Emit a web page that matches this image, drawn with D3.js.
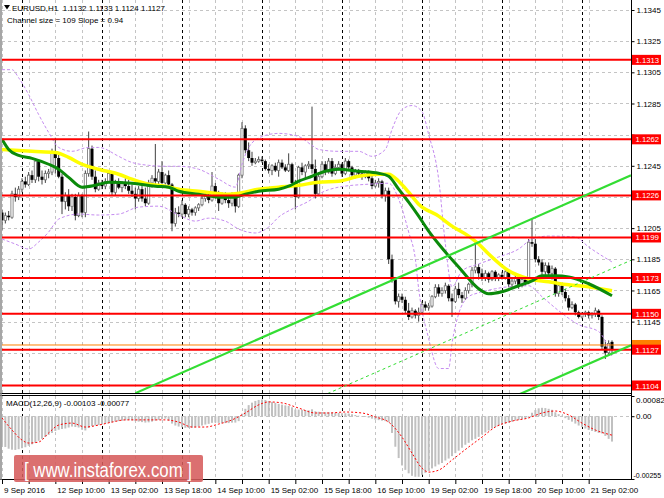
<!DOCTYPE html>
<html><head><meta charset="utf-8">
<script src="https://cdn.jsdelivr.net/npm/d3@7"></script>
<style>
html,body{margin:0;padding:0;background:#fff;}
svg{display:block;font-family:"Liberation Sans",Arial,sans-serif;}
text{white-space:pre;}
</style></head><body>
<svg id="c" width="664" height="498"></svg>
<script>
// ---------------- DATA ----------------
const symbol = "EURUSD,H1";
const headerQuote = "1.1132 1.1133 1.1124 1.1127";
const channelText = "Channel size = 109 Slope = 0.94";
const macdText = "MACD(12,26,9) -0.00103 -0.00077";

const open = [
1.1215,1.1210,1.1213,1.1212,1.1227,1.1225,1.1230,1.1235,1.1233,1.1239,
1.1236,1.1248,1.1238,1.1236,1.1240,1.1241,1.1254,1.1250,1.1238,1.1222,
1.1226,1.1219,1.1225,1.1213,1.1226,1.1215,1.1240,1.1256,1.1238,1.1230,
1.1234,1.1232,1.1235,1.1240,1.1228,1.1234,1.1231,1.1234,1.1232,1.1229,
1.1227,1.1224,1.1230,1.1224,1.1221,1.1234,1.1237,1.1235,1.1241,1.1234,
1.1239,1.1233,1.1208,1.1215,1.1214,1.1220,1.1214,1.1217,1.1215,1.1218,
1.1220,1.1224,1.1226,1.1223,1.1232,1.1226,1.1221,1.1227,1.1223,1.1221,
1.1226,1.1219,1.1239,1.1269,1.1255,1.1250,1.1247,1.1248,1.1249,1.1248,
1.1243,1.1242,1.1245,1.1242,1.1247,1.1244,1.1242,1.1246,1.1234,1.1225,
1.1244,1.1241,1.1245,1.1246,1.1243,1.1227,1.1238,1.1246,1.1241,1.1248,
1.1240,1.1244,1.1246,1.1240,1.1248,1.1244,1.1239,1.1242,1.1240,1.1238,
1.1241,1.1237,1.1232,1.1234,1.1235,1.1226,1.1229,1.1185,1.1172,1.1158,
1.1161,1.1159,1.1152,1.1148,1.1152,1.1149,1.1151,1.1156,1.1154,1.1155,
1.1161,1.1167,1.1163,1.1165,1.1168,1.1160,1.1158,1.1166,1.1162,1.1160,
1.1165,1.1169,1.1178,1.1180,1.1176,1.1173,1.1176,1.1172,1.1177,1.1173,
1.1175,1.1173,1.1177,1.1169,1.1171,1.1173,1.1168,1.1172,1.1170,1.1196,
1.1195,1.1185,1.1183,1.1177,1.1181,1.1176,1.1179,1.1163,1.1168,1.1164,
1.1160,1.1154,1.1156,1.1151,1.1148,1.1150,1.1151,1.1149,1.1150,1.1152,
1.1148,1.1129,1.1125,1.1132];
const high = [
1.1217,1.1215,1.1216,1.1229,1.1231,1.1232,1.1237,1.1238,1.1241,1.1242,
1.1250,1.1249,1.1242,1.1242,1.1243,1.1256,1.1263,1.1253,1.1240,1.1228,
1.1230,1.1227,1.1227,1.1228,1.1227,1.1242,1.1267,1.1258,1.1242,1.1236,
1.1236,1.1237,1.1241,1.1241,1.1236,1.1237,1.1235,1.1237,1.1236,1.1233,
1.1231,1.1232,1.1234,1.1231,1.1236,1.1239,1.1259,1.1243,1.1248,1.1240,
1.1242,1.1234,1.1218,1.1219,1.1223,1.1221,1.1219,1.1218,1.1219,1.1221,
1.1226,1.1228,1.1228,1.1241,1.1234,1.1229,1.1228,1.1228,1.1226,1.1228,
1.1227,1.1240,1.1273,1.1271,1.1260,1.1254,1.1250,1.1251,1.1251,1.1249,
1.1246,1.1246,1.1247,1.1249,1.1249,1.1246,1.1253,1.1247,1.1236,1.1245,
1.1247,1.1246,1.1248,1.1283,1.1249,1.1241,1.1248,1.1248,1.1250,1.1250,
1.1246,1.1248,1.1247,1.1250,1.1249,1.1245,1.1243,1.1243,1.1242,1.1242,
1.1242,1.1239,1.1236,1.1237,1.1236,1.1231,1.1231,1.1188,1.1173,1.1163,
1.1163,1.1161,1.1157,1.1154,1.1153,1.1154,1.1158,1.1158,1.1157,1.1162,
1.1169,1.1169,1.1167,1.1170,1.1169,1.1163,1.1168,1.1170,1.1164,1.1167,
1.1170,1.1180,1.1196,1.1182,1.1179,1.1178,1.1177,1.1178,1.1178,1.1176,
1.1177,1.1178,1.1178,1.1173,1.1175,1.1174,1.1174,1.1173,1.1198,1.1211,
1.1198,1.1187,1.1185,1.1183,1.1183,1.1181,1.1180,1.1170,1.1169,1.1166,
1.1162,1.1158,1.1157,1.1152,1.1151,1.1152,1.1152,1.1151,1.1154,1.1153,
1.1149,1.1133,1.1133,1.1133];
const low = [
1.1204,1.1208,1.1210,1.1211,1.1222,1.1223,1.1228,1.1231,1.1232,1.1234,
1.1234,1.1235,1.1233,1.1234,1.1237,1.1239,1.1240,1.1237,1.1214,1.1217,
1.1216,1.1216,1.1210,1.1212,1.1212,1.1212,1.1238,1.1236,1.1228,1.1229,
1.1230,1.1230,1.1234,1.1226,1.1226,1.1230,1.1228,1.1230,1.1227,1.1225,
1.1217,1.1222,1.1222,1.1219,1.1220,1.1231,1.1233,1.1232,1.1232,1.1233,
1.1231,1.1203,1.1206,1.1212,1.1212,1.1212,1.1212,1.1213,1.1213,1.1216,
1.1219,1.1222,1.1221,1.1222,1.1224,1.1216,1.1220,1.1221,1.1218,1.1219,
1.1215,1.1218,1.1237,1.1253,1.1248,1.1245,1.1246,1.1247,1.1247,1.1242,
1.1240,1.1239,1.1241,1.1238,1.1243,1.1241,1.1241,1.1232,1.1217,1.1224,
1.1239,1.1237,1.1243,1.1240,1.1224,1.1226,1.1237,1.1239,1.1240,1.1238,
1.1239,1.1242,1.1238,1.1239,1.1242,1.1237,1.1237,1.1239,1.1236,1.1237,
1.1235,1.1230,1.1231,1.1231,1.1224,1.1222,1.1182,1.1170,1.1156,1.1154,
1.1157,1.1150,1.1146,1.1147,1.1147,1.1145,1.1150,1.1152,1.1152,1.1154,
1.1160,1.1161,1.1161,1.1163,1.1158,1.1148,1.1157,1.1160,1.1157,1.1159,
1.1163,1.1167,1.1176,1.1172,1.1171,1.1171,1.1170,1.1171,1.1171,1.1171,
1.1172,1.1172,1.1167,1.1167,1.1169,1.1166,1.1167,1.1168,1.1169,1.1193,
1.1183,1.1181,1.1175,1.1175,1.1174,1.1172,1.1161,1.1161,1.1162,1.1158,
1.1152,1.1153,1.1149,1.1147,1.1147,1.1148,1.1147,1.1147,1.1148,1.1146,
1.1127,1.1121,1.1123,1.1124];
const close = [
1.1210,1.1213,1.1212,1.1227,1.1225,1.1230,1.1235,1.1233,1.1239,1.1236,
1.1248,1.1238,1.1236,1.1240,1.1241,1.1254,1.1250,1.1238,1.1222,1.1226,
1.1219,1.1225,1.1213,1.1226,1.1215,1.1240,1.1256,1.1238,1.1230,1.1234,
1.1232,1.1235,1.1240,1.1228,1.1234,1.1231,1.1234,1.1232,1.1229,1.1227,
1.1224,1.1230,1.1224,1.1221,1.1234,1.1237,1.1235,1.1241,1.1234,1.1239,
1.1233,1.1208,1.1215,1.1214,1.1220,1.1214,1.1217,1.1215,1.1218,1.1220,
1.1224,1.1226,1.1223,1.1232,1.1226,1.1221,1.1227,1.1223,1.1221,1.1226,
1.1219,1.1239,1.1269,1.1255,1.1250,1.1247,1.1248,1.1249,1.1248,1.1243,
1.1242,1.1245,1.1242,1.1247,1.1244,1.1242,1.1246,1.1234,1.1225,1.1244,
1.1241,1.1245,1.1246,1.1243,1.1227,1.1238,1.1246,1.1241,1.1248,1.1240,
1.1244,1.1246,1.1240,1.1248,1.1244,1.1239,1.1242,1.1240,1.1238,1.1241,
1.1237,1.1232,1.1234,1.1235,1.1226,1.1229,1.1185,1.1172,1.1158,1.1161,
1.1159,1.1152,1.1148,1.1152,1.1149,1.1151,1.1156,1.1154,1.1155,1.1161,
1.1167,1.1163,1.1165,1.1168,1.1160,1.1158,1.1166,1.1162,1.1160,1.1165,
1.1169,1.1178,1.1180,1.1176,1.1173,1.1176,1.1172,1.1177,1.1173,1.1175,
1.1173,1.1177,1.1169,1.1171,1.1173,1.1168,1.1172,1.1170,1.1196,1.1195,
1.1185,1.1183,1.1177,1.1181,1.1176,1.1179,1.1163,1.1168,1.1164,1.1160,
1.1154,1.1156,1.1151,1.1148,1.1150,1.1151,1.1149,1.1150,1.1152,1.1148,
1.1129,1.1125,1.1131,1.1127];

// moving averages, read at sample bars: [bar, price]
const maYellow = [[0,1.12555],[9,1.12543],[16,1.12536],[20,1.12504],[24,1.1246],[29,1.12428],[35,1.12396],[39,1.12364],[44,1.12332],[49,1.12319],[53,1.1230],[59,1.12287],[68,1.12268],[71,1.12274],[77,1.1230],[83,1.12313],[89,1.12325],[95,1.12345],[101,1.12351],[107,1.12383],[113,1.12396],[116,1.12396],[119,1.12351],[122,1.12281],[125,1.12204],[131,1.12127],[135,1.12063],[140,1.11999],[143,1.11948],[146,1.11884],[152,1.11776],[158,1.11725],[164,1.11706],[170,1.11686],[176,1.11673],[183,1.11648]];
const maGreen = [[0,1.1262],[2,1.12555],[5,1.12517],[9,1.12498],[14,1.1246],[17,1.12428],[20,1.12376],[24,1.12313],[28,1.12325],[32,1.12345],[39,1.12338],[46,1.12319],[50,1.12313],[53,1.12287],[59,1.12268],[65,1.12249],[70,1.12249],[73,1.12268],[77,1.12287],[83,1.1230],[86,1.12319],[89,1.12351],[93,1.12383],[97,1.12415],[101,1.12428],[107,1.12415],[113,1.12402],[116,1.12383],[119,1.1230],[122,1.12217],[125,1.12127],[128,1.12031],[131,1.11948],[134,1.11872],[137,1.11801],[140,1.11725],[143,1.11661],[146,1.11629],[150,1.11642],[155,1.1168],[159,1.11712],[162,1.11744],[166,1.11744],[170,1.11737],[176,1.11693],[183,1.11616]];
// envelope bands: [bar, price]
const bandUpper = [[0,1.13067],[3,1.13067],[5,1.13015],[8,1.12907],[11,1.12779],[14,1.12664],[17,1.12568],[21,1.12543],[26,1.12568],[29,1.12568],[35,1.12511],[38,1.12479],[44,1.12453],[49,1.12447],[53,1.12447],[59,1.12428],[65,1.12364],[70,1.12313],[72,1.1246],[74,1.12568],[78,1.12638],[83,1.12658],[89,1.12638],[93,1.12581],[95,1.12555],[101,1.12543],[107,1.12543],[111,1.12511],[115,1.12555],[117,1.12683],[120,1.12811],[123,1.12837],[126,1.12798],[128,1.12651],[131,1.12364],[133,1.1195],[135,1.11674],[138,1.11776],[143,1.1182],[149,1.11865],[155,1.11916],[159,1.1198],[164,1.11999],[172,1.11993],[176,1.11929],[183,1.11833]];
const bandLower = [[0,1.1198],[4,1.11948],[8,1.11916],[11,1.11961],[14,1.12025],[17,1.12108],[23,1.1214],[29,1.12134],[35,1.1214],[41,1.12185],[47,1.12191],[53,1.12134],[58,1.12095],[62,1.12114],[67,1.12095],[71,1.12044],[76,1.12019],[80,1.12057],[83,1.12121],[87,1.12172],[92,1.12223],[95,1.12268],[101,1.12313],[110,1.12332],[116,1.12338],[119,1.12236],[122,1.12025],[124,1.11852],[125,1.11661],[128,1.11341],[131,1.11149],[134,1.11149],[135,1.11309],[137,1.115],[140,1.1161],[143,1.11635],[148,1.11661],[152,1.11674],[158,1.1168],[162,1.1161],[167,1.1152],[173,1.11431],[179,1.11386],[183,1.11226]];

// regression channel
const channelSlopePips = 0.94;   // pips per bar
const channelSizePips = 109;
const channelMidAtLast = 1.1179; // middle line price at last bar

const levels = [1.1313,1.1262,1.1226,1.1199,1.1173,1.1150,1.1127,1.1104];
const bidPrice = 1.1130;
const priceTicks = [1.1345,1.1325,1.1305,1.1285,1.1265,1.1245,1.1225,1.1205,1.1185,1.1165,1.1145,1.1125];

const timeLabels = ["9 Sep 2016","12 Sep 10:00","13 Sep 02:00","13 Sep 18:00","14 Sep 10:00","15 Sep 02:00","15 Sep 18:00","16 Sep 10:00","19 Sep 02:00","19 Sep 18:00","20 Sep 10:00","21 Sep 02:00"];
const timeLabelBars = [0,16,32,48,64,80,96,112,128,144,160,176];
const gridBars = [0,8,16,24,32,40,48,56,64,72,80,88,96,104,112,120,128,136,144,152,160,168,176];
const daySeparatorBars = [6,30,54,78,102,126,150,174];

const macdMain = [
-0.00118,-0.00125,-0.00132,-0.00136,-0.00137,-0.00134,-0.00130,-0.00126,-0.00120,-0.00114,
-0.00108,-0.00100,-0.00092,-0.00084,-0.00076,-0.00068,-0.00060,-0.00055,-0.00052,-0.00050,
-0.00046,-0.00042,-0.00044,-0.00046,-0.00055,-0.00058,-0.00048,-0.00040,-0.00038,-0.00036,
-0.00033,-0.00030,-0.00026,-0.00025,-0.00022,-0.00020,-0.00018,-0.00017,-0.00016,-0.00017,
-0.00020,-0.00022,-0.00024,-0.00026,-0.00025,-0.00022,-0.00018,-0.00015,-0.00012,-0.00010,
-0.00018,-0.00030,-0.00038,-0.00042,-0.00045,-0.00047,-0.00048,-0.00047,-0.00045,-0.00042,
-0.00038,-0.00034,-0.00031,-0.00027,-0.00026,-0.00027,-0.00028,-0.00028,-0.00028,-0.00026,
-0.00026,-0.00020,0.00010,0.00030,0.00045,0.00055,0.00062,0.00066,0.00068,0.00066,
0.00062,0.00058,0.00054,0.00050,0.00047,0.00044,0.00042,0.00036,0.00027,0.00027,
0.00026,0.00025,0.00024,0.00028,0.00020,0.00018,0.00017,0.00016,0.00016,0.00015,
0.00014,0.00013,0.00012,0.00012,0.00011,0.00008,0.00005,0.00002,0.00000,-0.00003,
-0.00006,-0.00010,-0.00014,-0.00016,-0.00018,-0.00020,-0.00025,-0.00068,-0.00124,-0.00170,
-0.00200,-0.00218,-0.00232,-0.00242,-0.00246,-0.00246,-0.00238,-0.00230,-0.00222,-0.00212,
-0.00204,-0.00196,-0.00190,-0.00180,-0.00172,-0.00162,-0.00150,-0.00140,-0.00128,-0.00116,
-0.00108,-0.00098,-0.00092,-0.00084,-0.00074,-0.00066,-0.00058,-0.00050,-0.00044,-0.00038,
-0.00034,-0.00030,-0.00026,-0.00022,-0.00018,-0.00015,-0.00012,-0.00010,-0.00006,0.00014,
0.00025,0.00032,0.00034,0.00033,0.00030,0.00026,0.00016,0.00008,0.00002,-0.00008,
-0.00015,-0.00022,-0.00030,-0.00038,-0.00044,-0.00050,-0.00056,-0.00060,-0.00064,-0.00068,
-0.00070,-0.00080,-0.00092,-0.00103];
const macdSignal = [[0,-0.00007],[3,-0.00056],[6,-0.00097],[8,-0.00109],[11,-0.00105],[14,-0.00068],[17,-0.00036],[21,-0.00028],[25,-0.00044],[29,-0.00036],[33,-0.00024],[37,-0.00015],[41,-0.00015],[49,-0.00015],[53,-0.00024],[57,-0.00044],[61,-0.00044],[65,-0.00032],[69,-0.00015],[73,0.00013],[77,0.00046],[80,0.00058],[84,0.00054],[89,0.00033],[94,0.00013],[98,0.00013],[103,0.00017],[108,0.00013],[112,-0.00003],[116,-0.00024],[120,-0.00085],[123,-0.0015],[126,-0.00211],[128,-0.00227],[131,-0.00219],[135,-0.00178],[140,-0.00125],[144,-0.00085],[148,-0.00044],[153,-0.0002],[158,-0.00007],[162,0.00013],[166,0.00021],[170,0.00005],[174,-0.00028],[178,-0.00056],[183,-0.00077]];
const macdTickValues = [0.00082, 0, -0.00255];
const macdTickLabels = ["0.00082","0.00","-0.00255"];
const watermark = "[ www.instaforex.com ]";

// ---------------- DRAW ----------------
const svg = d3.select("#c");
const lastBar = close.length - 1;
const PX = {left:2, right:631, mainTop:0, mainBottom:393, macdTop:396, macdBottom:479.5};
const x = d3.scaleLinear().domain([0, lastBar]).range([2, 612]);
const y = d3.scaleLinear().domain([1.1104, 1.1345]).range([385.5, 10]);
const ym = d3.scaleLinear().domain([-0.00255, 0.00082]).range([479, 396]);
const fmt4 = d3.format(".4f");

svg.append("rect").attr("width",664).attr("height",498).attr("fill","#fff");
const defs = svg.append("defs");
defs.append("clipPath").attr("id","cm").append("rect").attr("x",PX.left).attr("y",0).attr("width",PX.right-PX.left).attr("height",PX.mainBottom);
defs.append("clipPath").attr("id","cd").append("rect").attr("x",PX.left).attr("y",PX.macdTop).attr("width",PX.right-PX.left).attr("height",PX.macdBottom-PX.macdTop);

const crisp = v => Math.round(v) + 0.5;

// grid
const grid = svg.append("g");
priceTicks.forEach(t => {
  grid.append("line").attr("x1",PX.left).attr("x2",PX.right).attr("y1",crisp(y(t))).attr("y2",crisp(y(t)))
    .attr("stroke","#c4c4c4").attr("stroke-dasharray","3,3");
});
function vline(b, color){
  const xx = crisp(x(b));
  [[PX.mainTop, PX.mainBottom],[PX.macdTop, PX.macdBottom]].forEach(([a,c]) => {
    grid.append("line").attr("x1",xx).attr("x2",xx).attr("y1",a).attr("y2",c)
      .attr("stroke",color).attr("stroke-dasharray","3,3");
  });
}
gridBars.forEach(b => vline(b, "#c4c4c4"));
daySeparatorBars.forEach(b => vline(b, "#000"));
grid.append("line").attr("x1",PX.left).attr("x2",PX.right).attr("y1",crisp(ym(0))).attr("y2",crisp(ym(0)))
  .attr("stroke","#c4c4c4").attr("stroke-dasharray","3,3");

// main chart layer
const main = svg.append("g").attr("clip-path","url(#cm)");

// candles
const bw = 2.2;
const cg = main.append("g");
close.forEach((c,i) => {
  const o = open[i], cx = x(i);
  cg.append("line").attr("x1",cx).attr("x2",cx).attr("y1",y(high[i])).attr("y2",y(low[i]))
    .attr("stroke","#404040").attr("stroke-width",1);
  const top = y(Math.max(o,c)), bot = y(Math.min(o,c));
  const h = Math.max(1, bot-top);
  if (c >= o) {
    cg.append("rect").attr("x",cx-bw/2).attr("y",top).attr("width",bw).attr("height",h)
      .attr("fill","#fff").attr("stroke","#707070").attr("stroke-width",0.8);
  } else {
    cg.append("rect").attr("x",cx-bw/2-0.4).attr("y",top).attr("width",bw+0.8).attr("height",h)
      .attr("fill","#000");
  }
});

// bands
const lineGen = d3.line().x(d => x(d[0])).y(d => y(d[1])).curve(d3.curveMonotoneX);
[bandUpper, bandLower].forEach(b => {
  main.append("path").attr("d", lineGen(b)).attr("fill","none").attr("stroke","#c58cf0")
    .attr("stroke-width",1).attr("stroke-dasharray","3,2");
});
// MAs
main.append("path").attr("d", lineGen(maYellow)).attr("fill","none").attr("stroke","#ffff00").attr("stroke-width",3.5);
main.append("path").attr("d", lineGen(maGreen)).attr("fill","none").attr("stroke","#0b8a0b").attr("stroke-width",3);

// red levels
levels.forEach(l => {
  main.append("line").attr("x1",PX.left).attr("x2",PX.right).attr("y1",y(l)).attr("y2",y(l))
    .attr("stroke","#ff0000").attr("stroke-width",2);
});
// bid line
main.append("line").attr("x1",PX.left).attr("x2",PX.right).attr("y1",y(bidPrice)).attr("y2",y(bidPrice))
  .attr("stroke","#ff8000").attr("stroke-width",1);

// regression channel
const endBar = x.invert(PX.right);
const startBar = 40;
const mid = b => channelMidAtLast + (b - lastBar) * channelSlopePips / 10000;
const half = channelSizePips / 2 / 10000;
[[half,"solid"],[0,"dash"],[-half,"solid"]].forEach(([off,st]) => {
  const ln = main.append("line").attr("x1",x(startBar)).attr("x2",x(endBar))
    .attr("y1",y(mid(startBar)+off)).attr("y2",y(mid(endBar)+off))
    .attr("stroke","#33dd33");
  if (st === "dash") ln.attr("stroke-width",1).attr("stroke-dasharray","3,3");
  else ln.attr("stroke-width",2.2);
});

// MACD
const md = svg.append("g").attr("clip-path","url(#cd)");
macdMain.forEach((v,i) => {
  md.append("rect").attr("x",x(i)-1).attr("width",2)
    .attr("y",Math.min(ym(v),ym(0))).attr("height",Math.max(0.5,Math.abs(ym(v)-ym(0))))
    .attr("fill","#c0c0c0");
});
md.append("path").attr("d", d3.line().x(d=>x(d[0])).y(d=>ym(d[1])).curve(d3.curveMonotoneX)(macdSignal))
  .attr("fill","none").attr("stroke","#ff0000").attr("stroke-width",1).attr("stroke-dasharray","2,2");

// frames
const fr = svg.append("g").attr("stroke","#000").attr("stroke-width",1);
fr.append("line").attr("x1",PX.right+0.5).attr("x2",PX.right+0.5).attr("y1",0).attr("y2",480);
fr.append("line").attr("x1",0).attr("x2",PX.right).attr("y1",393.5).attr("y2",393.5);
fr.append("line").attr("x1",0).attr("x2",PX.right).attr("y1",395.5).attr("y2",395.5);
fr.append("line").attr("x1",0).attr("x2",PX.right+1).attr("y1",479.5).attr("y2",479.5);
svg.append("line").attr("x1",1).attr("x2",1).attr("y1",0).attr("y2",480).attr("stroke","#888").attr("stroke-width",1.5);

// price axis (labels hidden under a level box are left blank, as in the reference)
const hidden = t => levels.concat([bidPrice]).some(l => Math.abs(y(l) - y(t)) < 7.5);
const pa = svg.append("g").attr("transform",`translate(${PX.right+0.5},0)`)
  .call(d3.axisRight(y).tickValues(priceTicks).tickFormat(t => hidden(t) ? "" : fmt4(t)).tickSize(3).tickPadding(2));
pa.select(".domain").remove();
pa.selectAll("text").attr("font-size","8px").attr("font-family","Liberation Sans, Arial, sans-serif").attr("fill","#000");
pa.selectAll("line").attr("stroke","#000");

// level label boxes
function priceBox(v, color, withText){
  const g = svg.append("g");
  g.append("rect").attr("x",632).attr("y",y(v)-5).attr("width",29).attr("height",10).attr("fill",color);
  if (withText) g.append("text").attr("x",635.5).attr("y",y(v)+3).attr("font-size","8px").attr("fill","#fff")
    .attr("textLength",23.5).attr("lengthAdjust","spacingAndGlyphs").text(fmt4(v));
}
priceBox(bidPrice, "#ff8000", false);
levels.forEach(l => priceBox(l, "#ff0000", true));

// MACD axis
const ma = svg.append("g").attr("transform",`translate(${PX.right+0.5},0)`)
  .call(d3.axisRight(ym).tickValues(macdTickValues).tickFormat((d,i)=>macdTickLabels[i]).tickSize(3).tickPadding(1.5));
ma.select(".domain").remove();
ma.selectAll("text").attr("font-size","8px").attr("font-family","Liberation Sans, Arial, sans-serif").attr("fill","#000");
ma.selectAll(".tick").filter((d,i)=>i===0).select("text").attr("dy","0.75em");
ma.selectAll(".tick").filter((d,i)=>i===2).select("text").attr("dy","-0.15em")
  .attr("x",2).attr("font-size","7px");

// time axis
const ta = svg.append("g").attr("transform","translate(0,480)")
  .call(d3.axisBottom(x).tickValues(gridBars).tickSize(4).tickPadding(3)
    .tickFormat(d => { const k = timeLabelBars.indexOf(d); return k >= 0 ? timeLabels[k] : ""; }));
ta.select(".domain").remove();
ta.selectAll("text").attr("font-size","8px").attr("font-family","Liberation Sans, Arial, sans-serif")
  .attr("text-anchor","start").attr("x",1.5).attr("fill","#000");
ta.selectAll("line").attr("stroke","#000");

// header texts
svg.append("path").attr("d","M4,5L10,5L7,9.5Z").attr("fill","#000");
svg.append("text").attr("x",12).attr("y",11).attr("font-size","8px").text(symbol + "  " + headerQuote);
svg.append("text").attr("x",7).attr("y",23).attr("font-size","8px").text(channelText);
svg.append("text").attr("x",6).attr("y",406).attr("font-size","8px").text(macdText);

// watermark
svg.append("rect").attr("x",14).attr("y",455).attr("width",189).attr("height",27).attr("rx",2)
  .attr("fill","#d65c5c").attr("fill-opacity",0.88);
svg.append("text").attr("x",24).attr("y",477).attr("font-size","21px").attr("fill","#fff")
  .attr("textLength",168).attr("lengthAdjust","spacingAndGlyphs").text(watermark);
</script></body></html>
